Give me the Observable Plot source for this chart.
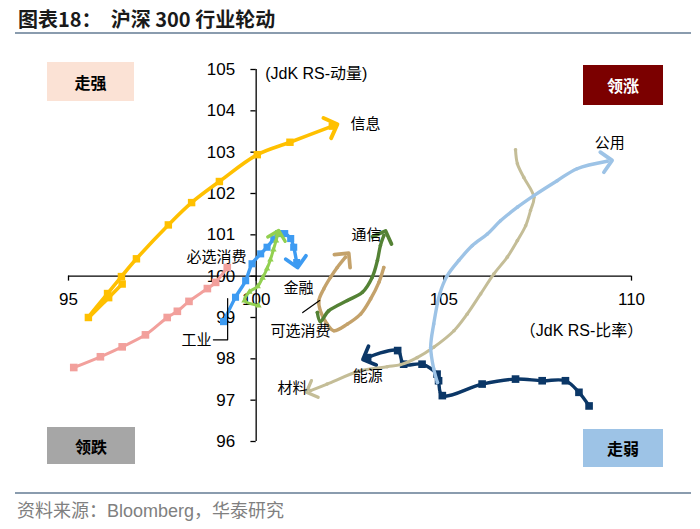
<!DOCTYPE html>
<html><head><meta charset="utf-8">
<script src="https://cdn.jsdelivr.net/npm/d3@7"></script>
<script src="https://cdn.jsdelivr.net/npm/@observablehq/plot@0.6"></script>
<style>
body{margin:0;background:#fff;}
#wrap{position:relative;width:700px;height:529px;overflow:hidden;font-family:"Noto Sans CJK SC",sans-serif;}
.box{position:absolute;display:flex;align-items:center;justify-content:center;font-weight:bold;font-size:16px;}
</style></head>
<body><div id="wrap">
<div style="position:absolute;left:18px;top:4px;font-weight:bold;font-size:20px;color:#1a1a1a;white-space:pre;">图表18：  沪深 300 行业轮动</div>
<div style="position:absolute;left:15px;width:676px;top:32px;height:2px;background:#8a9cae;"></div>
<div id="chart" style="position:absolute;left:0;top:36px;"></div>
<div style="position:absolute;left:15px;width:676px;top:492px;height:2px;background:#8a9cae;"></div>
<div style="position:absolute;left:17px;top:496px;font-size:18px;color:#808080;white-space:pre;">资料来源：<span style="font-family:'Liberation Sans'">Bloomberg</span>，华泰研究</div>
<div class="box" style="left:47px;top:62px;width:87px;height:39px;background:#fbe2d5;color:#000;">走强</div>
<div class="box" style="left:583px;top:65px;width:80px;height:40px;background:#7b0000;color:#fff;">领涨</div>
<div class="box" style="left:47px;top:427px;width:88px;height:37px;background:#a6a6a6;color:#000;">领跌</div>
<div class="box" style="left:583px;top:429px;width:80px;height:38px;background:#9dc3e6;color:#000;">走弱</div>
</div>
<script>
// Axis ticks
const xTicks = [95, 100, 105, 110];
const yTicks = [96, 97, 98, 99, 100, 101, 102, 103, 104, 105];

// Series values (JdK RS-Ratio, JdK RS-Momentum)
const techX = [96.43, 96.07, 95.53, 96.04, 96.41, 96.81, 97.66, 98.28, 99.02, 100.03, 100.90, 102.03];
const techY = [99.81, 99.48, 99.00, 99.58, 99.99, 100.42, 101.24, 101.78, 102.29, 102.94, 103.24, 103.63];

const utilX = [104.83, 104.73, 104.65, 104.73, 104.89, 105.09, 105.40, 105.76, 106.16, 106.51, 106.96, 107.40, 108.02, 108.55, 109.35];
const utilY = [97.43, 97.76, 98.28, 98.84, 99.57, 100.01, 100.38, 100.74, 101.02, 101.34, 101.67, 101.95, 102.31, 102.60, 102.78];

const matX = [106.91, 106.96, 107.13, 107.40, 107.31, 107.18, 106.96, 106.69, 106.33, 105.98, 105.62, 105.27, 104.73, 104.29, 103.85, 103.49, 102.78, 101.89, 101.45];
const matY = [103.06, 102.72, 102.39, 101.91, 101.59, 101.22, 100.86, 100.46, 100.05, 99.57, 99.08, 98.68, 98.28, 98.03, 97.86, 97.81, 97.71, 97.39, 97.23];

const energyX = [108.87, 108.60, 108.24, 107.62, 106.91, 106.02, 104.96, 104.86, 104.82, 104.42, 103.93, 103.77, 102.97];
const energyY = [96.86, 97.19, 97.47, 97.47, 97.51, 97.39, 97.11, 97.47, 97.63, 97.87, 97.87, 98.20, 98.03];

const indX = [99.13, 99.45, 99.72, 99.89, 100.12, 100.29, 100.47, 100.60, 100.76, 100.92, 101.00, 101.08];
const indY = [98.90, 99.49, 99.89, 100.30, 100.54, 100.70, 100.90, 101.03, 101.03, 100.91, 100.70, 100.33];

const stapX = [95.14, 95.85, 96.43, 97.05, 97.63, 97.90, 98.21, 98.70, 98.92, 99.23];
const stapY = [97.79, 98.05, 98.29, 98.58, 99.00, 99.15, 99.39, 99.70, 99.85, 100.21];

const finX = [100.06, 99.69, 99.82, 100.04, 100.17, 100.29, 100.38, 100.46, 100.53, 100.57];
const finY = [99.29, 99.41, 99.62, 99.75, 99.96, 100.18, 100.40, 100.64, 100.86, 101.00];

const telX = [101.63, 101.71, 101.93, 102.43, 102.83, 103.09, 103.23, 103.31, 103.40];
const telY = [99.12, 98.90, 99.16, 99.41, 99.61, 99.97, 100.38, 100.74, 100.98];

const discX = [103.40, 103.27, 103.05, 102.78, 102.43, 102.07, 101.89, 101.71, 101.67, 101.80, 101.98, 102.16, 102.38];
const discY = [100.21, 99.85, 99.45, 99.08, 98.84, 98.68, 98.84, 99.16, 99.41, 99.69, 99.97, 100.21, 100.46];

// Series names and label anchors
const names = ["能源", "材料", "公用", "信息", "必选消费", "工业", "金融", "可选消费", "通信"];
const labelX = [102.97, 100.97, 109.42, 102.91, 98.94, 98.41, 101.13, 101.18, 102.94];
const labelY = [97.57, 97.28, 103.21, 103.67, 100.47, 98.44, 99.72, 98.68, 101.00];

// leader lines for labels
const leaderInd = [[98.86, 98.46], [99.24, 98.46], [99.24, 99.46]];
const leaderDisc = [[101.24, 99.12], [101.69, 99.41]];

const xs = {"能源": energyX, "材料": matX, "公用": utilX, "信息": techX, "必选消费": stapX, "工业": indX, "金融": finX, "可选消费": discX, "通信": telX};
const ys = {"能源": energyY, "材料": matY, "公用": utilY, "信息": techY, "必选消费": stapY, "工业": indY, "金融": finY, "可选消费": discY, "通信": telY};

const style = {
  "能源": {c: "#0b3767", w: 3.4, sym: "square", r: 4.3, arrow: true},
  "材料": {c: "#c4bd97", w: 3, sym: "circle", r: 1.8, arrow: true},
  "公用": {c: "#9dc3e6", w: 3.4, sym: "circle", r: 1.8, arrow: true},
  "信息": {c: "#ffc000", w: 3.6, sym: "square", r: 4.2, arrow: true},
  "必选消费": {c: "#f2a09c", w: 3, sym: "square", r: 4.3, arrow: false},
  "工业": {c: "#3d9bf2", w: 3.4, sym: "square", r: 4.0, arrow: true},
  "金融": {c: "#92d050", w: 3, sym: "triangle", r: 2.4, arrow: true},
  "可选消费": {c: "#c4a26b", w: 3.4, sym: "circle", r: 1.8, arrow: true},
  "通信": {c: "#548235", w: 3.4, sym: "circle", r: 1.8, arrow: true}
};

const marks = [];
// axes
marks.push(Plot.ruleY([100], {x1: 95, x2: 110, stroke: "#000", strokeWidth: 1.3}));
marks.push(Plot.ruleX([100], {y1: 96, y2: 105, stroke: "#000", strokeWidth: 1.3}));
marks.push(Plot.ruleX(xTicks, {y1: 100, y2: 99.88, stroke: "#000", strokeWidth: 1.3}));
marks.push(Plot.ruleY(yTicks, {x1: 100, x2: 99.86, stroke: "#000", strokeWidth: 1.3}));
marks.push(Plot.text(xTicks, {x: d => d, y: 100, text: d => String(d), dy: 23, fontSize: 17, fontFamily: "Liberation Sans", fill: "#000"}));
marks.push(Plot.text(yTicks, {x: 100, y: d => d, text: d => String(d), dx: -21, textAnchor: "end", fontSize: 17, fontFamily: "Liberation Sans", fill: "#000"}));
marks.push(Plot.text(["(JdK RS-动量)"], {x: 100, y: 105, text: d => d, dx: 9, dy: 4, textAnchor: "start", fontSize: 16, fontFamily: "Liberation Sans, Noto Sans CJK SC", fill: "#000"}));
marks.push(Plot.text(["（JdK RS-比率）"], {x: 108.67, y: 98.68, text: d => d, fontSize: 16, fontFamily: "Liberation Sans, Noto Sans CJK SC", fill: "#000"}));

for (const n of names) {
  const s = style[n];
  const rows = xs[n].map((x, i) => ({x, y: ys[n][i]}));
  marks.push(Plot.line(rows, {x: "x", y: "y", stroke: s.c, strokeWidth: s.w, curve: "catmull-rom", markerEnd: s.arrow ? "arrow" : "none"}));
  marks.push(Plot.dot(rows, {x: "x", y: "y", symbol: s.sym, r: s.r, fill: s.c, stroke: "none"}));
}

marks.push(Plot.line(leaderInd, {x: d => d[0], y: d => d[1], stroke: "#000", strokeWidth: 1.2}));
marks.push(Plot.line(leaderDisc, {x: d => d[0], y: d => d[1], stroke: "#000", strokeWidth: 1.2}));
marks.push(Plot.text(names, {x: (d, i) => labelX[i], y: (d, i) => labelY[i], text: d => d, fontSize: 15, fontFamily: "Noto Sans CJK SC", fill: "#000"}));

const chart = Plot.plot({
  width: 700, height: 452,
  marginTop: 33, marginBottom: 47, marginLeft: 68, marginRight: 69,
  x: {domain: [95, 110], axis: null},
  y: {domain: [96, 105], axis: null},
  style: {background: "transparent", overflow: "visible"},
  marks
});
// enlarge arrowheads to match reference chevrons
chart.querySelectorAll("marker").forEach(m => {
  m.setAttribute("markerWidth", 10);
  m.setAttribute("markerHeight", 10);
  m.setAttribute("stroke-width", 1.1);
});
document.getElementById("chart").appendChild(chart);
</script>
</body></html>
